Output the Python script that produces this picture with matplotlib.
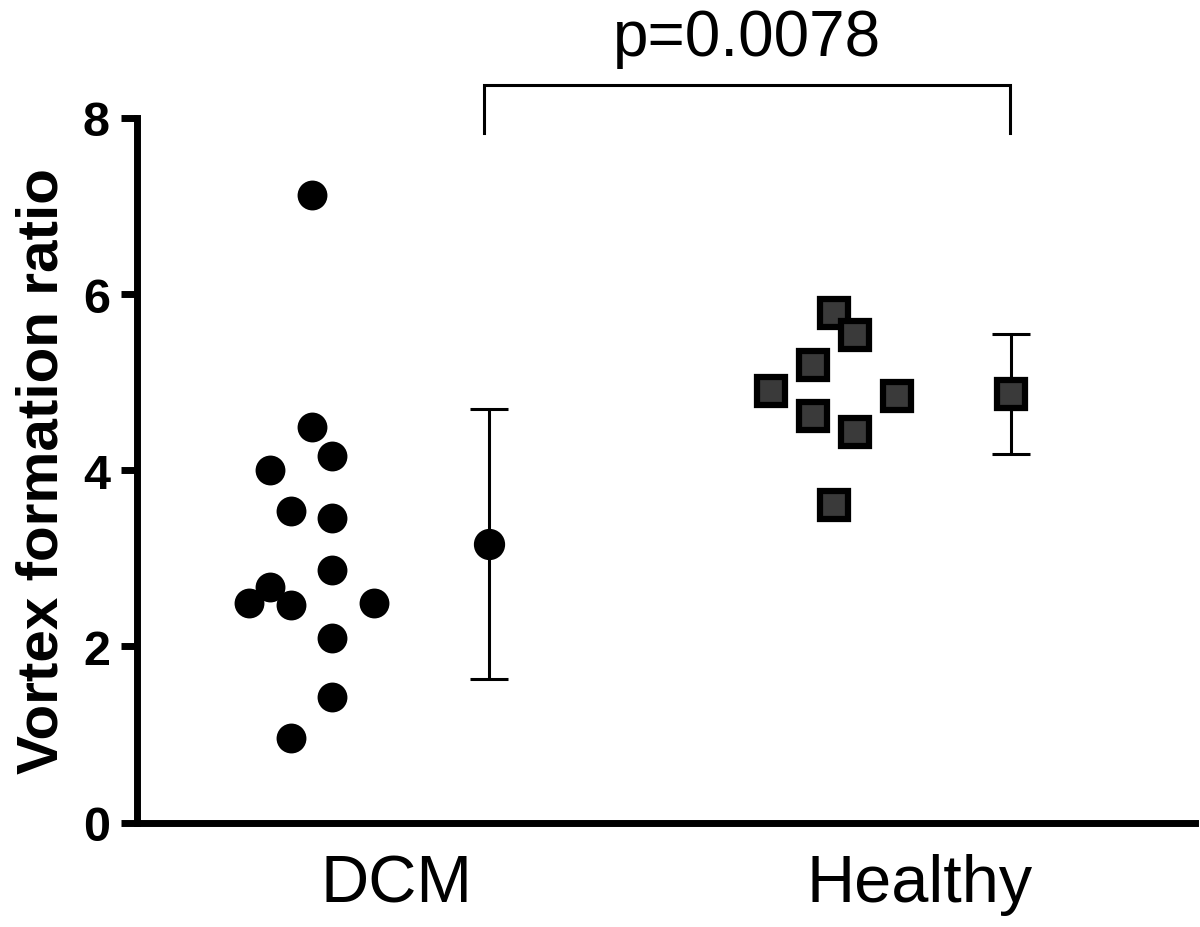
import numpy as np
import matplotlib
matplotlib.use("Agg")
import matplotlib.pyplot as plt

plt.rcParams['font.family'] = ['Liberation Sans', 'DejaVu Sans']

# data
categories = ["DCM", "Healthy"]
dcm_values = [7.13, 4.49, 4.00, 4.16, 3.54, 3.46, 2.87, 2.67, 2.49, 2.47, 2.49, 2.10, 1.42, 0.96]
dcm_jitter = [0, 0, -2, 1, -1, 1, 1, -2, -3, -1, 3, 1, 1, -1]
healthy_values = [5.79, 5.54, 5.20, 4.90, 4.62, 4.44, 4.84, 3.61]
healthy_jitter = [0, 1, -1, -3, -1, 1, 3, 0]
dcm_mean, dcm_sd = 3.16, 1.53
healthy_mean, healthy_sd = 4.87, 0.68
p_text = "p=0.0078"

step = 0.04
scatter_off = -0.163
mean_off = 0.176

fig = plt.figure(figsize=(12, 9.28), dpi=100)
ax = fig.add_axes([137 / 1200, 1 - 823.5 / 928, 1058 / 1200, (823.5 - 119) / 928])

# individual points
ax.plot([0 + scatter_off + j * step for j in dcm_jitter], dcm_values, 'o',
        ms=21.5, color='black', mew=0, clip_on=False, zorder=3)
ax.plot([1 + scatter_off + j * step for j in healthy_jitter], healthy_values, 's',
        ms=20.5, mfc='#3a3a3a', mec='black', mew=4.5, clip_on=False, zorder=3)

# mean +/- SD
ax.errorbar(0 + mean_off, dcm_mean, yerr=dcm_sd, fmt='o', ms=21.5, mfc='black', mec='black',
            ecolor='black', elinewidth=2.2, capsize=14, capthick=2.2, zorder=3)
ax.errorbar(1 + mean_off, healthy_mean, yerr=healthy_sd, fmt='s', ms=20.5, mfc='#3a3a3a',
            mec='black', ecolor='black', elinewidth=2.2, capsize=14, capthick=2.2, zorder=3)
# thicker outline on the healthy mean square (errorbar ties mew to capthick)
ax.plot([1 + mean_off], [healthy_mean], 's', ms=20.5, mfc='#3a3a3a', mec='black', mew=4.5, zorder=4)

# significance bracket
x1, x2 = 0 + mean_off - 0.008, 1 + mean_off - 0.002
ax.plot([x1, x1, x2, x2], [7.83, 8.38, 8.38, 7.83], color='black', lw=2.2,
        clip_on=False, solid_joinstyle='miter')
ax.text((x1 + x2) / 2, 8.72, p_text, ha='center', va='baseline', fontsize=46)

ax.set_xlim(-0.497, 1.528)
ax.set_ylim(0, 8)
ax.set_yticks([0, 2, 4, 6, 8])
ax.set_xticks([0, 1])
ax.set_xticklabels(categories, fontsize=48)
ax.tick_params(axis='x', length=0, pad=22)
ax.tick_params(axis='y', length=11.5, width=5, pad=8, labelsize=35)
for lab in ax.get_yticklabels():
    lab.set_fontweight('bold')

ax.set_ylabel("Vortex formation ratio", fontsize=42, fontweight='bold', labelpad=10)

for s in ['top', 'right']:
    ax.spines[s].set_visible(False)
for s in ['left', 'bottom']:
    ax.spines[s].set_linewidth(5)

fig.savefig("out.png", dpi=100)
